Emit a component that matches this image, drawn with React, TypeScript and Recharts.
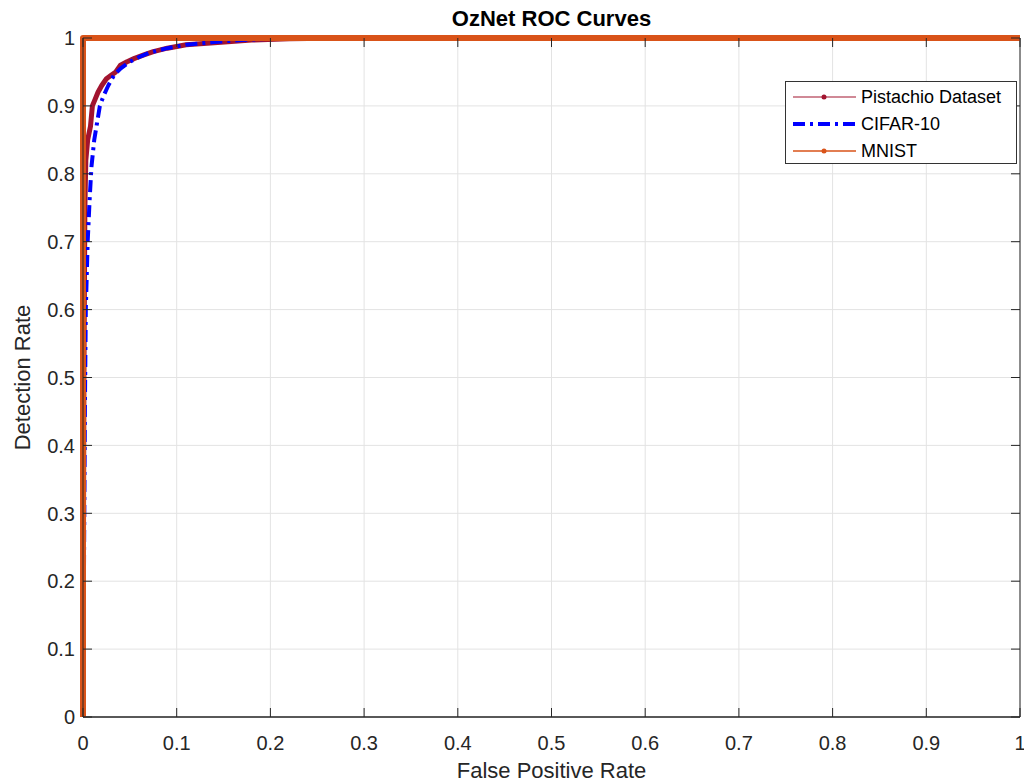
import React from "react";
import {
  LineChart,
  Line,
  XAxis,
  YAxis,
  CartesianGrid,
  ReferenceArea,
  Label,
} from "recharts";

// ROC points (false positive rate, detection rate)
const pistachioFpr = [0, 0.001, 0.002, 0.003, 0.005, 0.008, 0.01, 0.013, 0.016, 0.02, 0.025, 0.03, 0.035, 0.04, 0.047, 0.055, 0.065, 0.075, 0.09, 0.11, 0.14, 0.18, 0.22, 0.28, 1];
const pistachioTpr = [0, 0.5, 0.75, 0.82, 0.85, 0.87, 0.9, 0.91, 0.92, 0.93, 0.94, 0.945, 0.95, 0.96, 0.965, 0.97, 0.975, 0.98, 0.985, 0.99, 0.993, 0.997, 0.999, 1, 1];

const cifarFpr = [0, 0.001, 0.002, 0.003, 0.004, 0.005, 0.007, 0.009, 0.012, 0.015, 0.018, 0.022, 0.027, 0.033, 0.04, 0.05, 0.06, 0.07, 0.09, 0.11, 0.14, 0.17, 0.2, 0.25, 1];
const cifarTpr = [0, 0.2, 0.45, 0.6, 0.65, 0.7, 0.76, 0.81, 0.85, 0.875, 0.9, 0.915, 0.93, 0.945, 0.955, 0.965, 0.972, 0.978, 0.985, 0.99, 0.994, 0.997, 0.999, 1, 1];

const mnistFpr = [0, 0, 0, 0, 0, 0, 0, 0, 0, 0, 0, 0.1, 0.2, 0.3, 0.4, 0.5, 0.6, 0.7, 0.8, 0.9, 1];
const mnistTpr = [0, 0.1, 0.2, 0.3, 0.4, 0.5, 0.6, 0.7, 0.8, 0.9, 1, 1, 1, 1, 1, 1, 1, 1, 1, 1, 1];

const axisTicks = [0, 0.1, 0.2, 0.3, 0.4, 0.5, 0.6, 0.7, 0.8, 0.9, 1];

const toPoints = (xs: number[], ys: number[]) => xs.map((x, i) => ({ x, y: ys[i] }));

const series = [
  { name: "Pistachio Dataset", data: toPoints(pistachioFpr, pistachioTpr), color: "#A2142F", width: 5, dash: undefined, legendWidth: 1.2 },
  { name: "CIFAR-10", data: toPoints(cifarFpr, cifarTpr), color: "#0000FF", width: 4, dash: "12 5 3 5", legendWidth: 4 },
  { name: "MNIST", data: toPoints(mnistFpr, mnistTpr), color: "#D95319", width: 6, dash: undefined, legendWidth: 1.5 },
];

const W = 1024;
const H = 783;
const PLOT_TOP = 38;
const PLOT_BOTTOM = 717;
const PLOT_LEFT = 83;
const PLOT_RIGHT = 1020;
const INK = "#262626";
const FONT = "'Liberation Sans', Arial, Helvetica, sans-serif";

const fmt = (v: number) => (v === 0 || v === 1 ? String(v) : v.toFixed(1));

const XTick = (props: any) => {
  const { x, payload } = props;
  return (
    <g>
      <line x1={x} x2={x} y1={PLOT_BOTTOM} y2={PLOT_BOTTOM - 9} stroke={INK} />
      <line x1={x} x2={x} y1={PLOT_TOP} y2={PLOT_TOP + 9} stroke={INK} />
      <text x={x} y={PLOT_BOTTOM + 33} textAnchor="middle" fontSize={20} fill={INK} fontFamily={FONT}>
        {fmt(payload.value)}
      </text>
    </g>
  );
};

const YTick = (props: any) => {
  const { y, payload } = props;
  return (
    <g>
      <line x1={PLOT_LEFT} x2={PLOT_LEFT + 9} y1={y} y2={y} stroke={INK} />
      <line x1={PLOT_RIGHT} x2={PLOT_RIGHT - 9} y1={y} y2={y} stroke={INK} />
      <text x={PLOT_LEFT - 8} y={y} dy="0.36em" textAnchor="end" fontSize={20} fill={INK} fontFamily={FONT}>
        {fmt(payload.value)}
      </text>
    </g>
  );
};

const LegendBox = () => (
  <div
    style={{
      position: "absolute",
      left: 785,
      top: 81,
      width: 230,
      height: 81,
      border: "1px solid #333",
      background: "#fff",
      fontFamily: FONT,
      fontSize: 18,
      color: "#000",
    }}
  >
    {series.map((s, i) => (
      <div key={s.name} style={{ position: "absolute", left: 0, top: 3 + i * 27, height: 24, display: "flex", alignItems: "center" }}>
        <svg width={72} height={24} style={{ display: "block" }}>
          <line x1={7} x2={70} y1={12} y2={12} stroke={s.color} strokeWidth={s.legendWidth} strokeDasharray={s.dash} />
          {s.name !== "CIFAR-10" && <circle cx={38} cy={12} r={2.5} fill={s.color} />}
        </svg>
        <span style={{ marginLeft: 3, whiteSpace: "nowrap" }}>{s.name}</span>
      </div>
    ))}
  </div>
);

export default function App() {
  return (
    <div style={{ position: "absolute", left: 0, top: 0, width: W, height: H, background: "#fff", fontFamily: FONT }}>
      <div
        style={{
          position: "absolute",
          top: 6,
          left: PLOT_LEFT,
          width: PLOT_RIGHT - PLOT_LEFT,
          textAlign: "center",
          fontWeight: "bold",
          fontSize: 22,
          color: "#000",
        }}
      >
        OzNet ROC Curves
      </div>
      <LineChart
        width={W}
        height={H}
        margin={{ top: PLOT_TOP, right: W - PLOT_RIGHT, left: 0, bottom: 0 }}
      >
        <CartesianGrid stroke="#e3e3e3" strokeWidth={1} />
        <XAxis
          dataKey="x"
          type="number"
          domain={[0, 1]}
          ticks={axisTicks}
          height={H - PLOT_BOTTOM}
          tick={<XTick />}
          tickLine={false}
          axisLine={{ stroke: INK }}
          interval={0}
        >
          <Label value="False Positive Rate" position="insideBottom" offset={5} style={{ fontSize: 22, fill: INK, fontFamily: FONT }} />
        </XAxis>
        <YAxis
          dataKey="y"
          type="number"
          domain={[0, 1]}
          ticks={axisTicks}
          width={PLOT_LEFT}
          tick={<YTick />}
          tickLine={false}
          axisLine={{ stroke: INK }}
          interval={0}
        >
          <Label value="Detection Rate" angle={-90} position="insideLeft" offset={22} style={{ fontSize: 22, fill: INK, fontFamily: FONT, textAnchor: "middle" }} />
        </YAxis>
        <ReferenceArea x1={0} x2={1} y1={0} y2={1} fill="none" stroke={INK} strokeWidth={1} ifOverflow="visible" />
        {series.map((s) => (
          <Line
            key={s.name}
            data={s.data}
            dataKey="y"
            name={s.name}
            type="linear"
            stroke={s.color}
            strokeWidth={s.width}
            strokeDasharray={s.dash}
            strokeLinejoin="round"
            dot={false}
            activeDot={false}
            isAnimationActive={false}
          />
        ))}
      </LineChart>
      <LegendBox />
    </div>
  );
}
